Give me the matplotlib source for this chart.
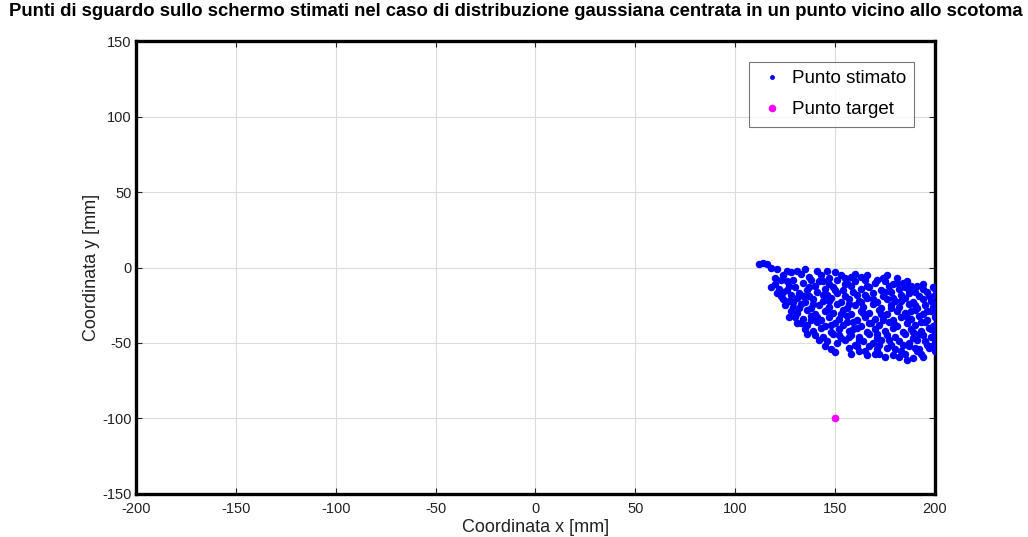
import matplotlib.pyplot as plt
import numpy as np

plt.rcParams['font.family'] = ['Liberation Sans', 'DejaVu Sans']
plt.rcParams['axes.unicode_minus'] = False

# estimated gaze points on the screen [mm]
stimati = [
    (112, 2.5), (114, 3), (116, 2), (118, 0), (121, -1), (126, -2.5), (128, -3), (131, -2), (141, -2),
    (124, -5), (133, -4), (137, -6), (143, -5), (147, -7), (153, -5), (155, -7), (158, -6), (163, -6),
    (166, -5), (171, -8), (174, -7),
    (120, -11), (126, -9), (129, -8), (134, -10), (138, -8), (144, -9), (147, -11), (151, -8),
    (156, -10), (160, -9), (165, -8), (170, -10), (175, -9), (179, -11), (184, -10), (188, -12),
    (118, -13), (122, -14), (127, -12), (130, -13), (136, -15), (140, -12), (145, -14), (149, -13),
    (154, -15), (158, -12), (163, -14), (167, -13), (173, -15), (177, -12), (182, -14), (185, -13),
    (191, -12), (194, -14), (199, -13),
    (121, -17), (124, -16), (128, -18), (132, -17), (137, -19), (141, -16), (146, -18), (151, -17),
    (155, -19), (159, -16), (165, -18), (169, -17), (174, -19), (178, -16), (183, -18), (187, -17),
    (192, -19), (196, -16), (200, -18),
    (124, -21), (127, -22), (131, -20), (135, -23), (139, -21), (144, -22), (148, -20), (153, -23),
    (157, -21), (162, -22), (166, -20), (171, -23), (176, -21), (180, -22), (185, -20), (189, -23),
    (194, -21), (198, -22),
    (125, -25), (129, -26), (133, -24), (138, -27), (142, -25), (147, -26), (151, -24), (156, -27),
    (160, -25), (164, -26), (169, -24), (173, -27), (178, -25), (182, -26), (187, -24), (191, -27),
    (195, -25), (199, -26),
    (128, -29), (131, -30), (136, -28), (140, -31), (145, -29), (149, -30), (154, -28), (158, -31),
    (163, -29), (167, -30), (172, -28), (176, -31), (181, -29), (185, -30), (190, -28), (194, -31),
    (198, -29), (200, -31),
    (130, -33), (134, -34), (138, -32), (143, -35), (147, -33), (152, -34), (156, -32), (161, -35),
    (165, -33), (170, -34), (174, -32), (179, -35), (183, -33), (188, -34), (192, -32), (196, -35),
    (200, -33),
    (133, -37), (136, -38), (141, -36), (145, -39), (150, -37), (154, -38), (159, -36), (163, -39),
    (168, -37), (172, -38), (177, -36), (181, -39), (186, -37), (190, -38), (195, -36), (199, -39),
    (135, -41), (139, -42), (143, -40), (148, -43), (152, -41), (157, -42), (161, -40), (166, -43),
    (170, -41), (175, -42), (179, -40), (184, -43), (188, -41), (193, -42), (197, -40), (200, -43),
    (140, -45), (144, -46), (149, -44), (153, -47), (158, -45), (162, -46), (167, -44), (171, -47),
    (176, -45), (180, -46), (185, -44), (189, -47), (194, -45), (198, -46),
    (146, -49), (151, -50), (155, -48), (160, -51), (164, -49), (169, -50), (173, -48), (178, -51),
    (182, -49), (187, -50), (191, -48), (196, -51), (200, -49),
    (148, -54), (157, -53), (162, -55), (167, -52), (171, -54), (176, -53), (183, -55), (187, -52),
    (192, -54), (197, -53), (200, -55),
    (166, -58), (172, -57), (179, -58), (182, -59), (186, -61), (189, -60), (193, -57),
    (123, -8), (126, -15), (129, -23), (132, -27), (134, -19), (137, -13), (139, -24), (141, -33),
    (142, -9), (144, -18), (146, -28), (148, -38), (150, -15), (152, -45), (153, -31), (155, -11),
    (157, -24), (159, -41), (161, -18), (162, -48), (164, -30), (166, -12), (167, -37), (169, -21),
    (171, -44), (172, -51), (173, -31), (175, -16), (177, -48), (178, -27), (180, -38), (181, -10),
    (183, -22), (184, -51), (186, -33), (187, -15), (189, -43), (190, -25), (191, -55), (193, -36),
    (194, -11), (195, -49), (196, -29), (197, -19), (198, -41), (199, -52), (200, -24), (200, -38),
    (200, -46), (200, -14),
    (127, -33), (131, -37), (136, -44), (142, -48), (145, -52), (150, -56), (158, -57), (161, -52),
    (170, -57), (175, -59), (180, -54), (185, -57), (190, -53), (194, -59), (176, -5), (181, -7),
    (186, -9), (160, -4), (150, -3), (135, -1), (146, -2), (190, -16), (120, -7), (123, -19),
    (138, -35), (157, -46), (165, -55), (174, -35), (188, -29), (156, -36), (147, -22), (163, -23),
    (179, -20), (192, -44),
]
target_x = [150]
target_y = [-100]

x_ticks = [-200, -150, -100, -50, 0, 50, 100, 150, 200]
y_ticks = [-150, -100, -50, 0, 50, 100, 150]

px = [p[0] for p in stimati]
py = [p[1] for p in stimati]

fig = plt.figure(figsize=(10.28, 5.37), dpi=100)
ax = fig.add_axes([0.1323, 0.0801, 0.7772, 0.8435])

ax.plot(px, py, 'o', color=(0, 0, 1), markersize=5.4, markeredgewidth=0,
        label='Punto stimato', zorder=3)
ax.plot(target_x, target_y, 'o', color=(1, 0, 1), markersize=5.5, markeredgewidth=0,
        label='Punto target', zorder=3)

ax.set_xlim(-200, 200)
ax.set_ylim(-150, 150)
ax.set_xticks(x_ticks)
ax.set_yticks(y_ticks)
ax.grid(True, color='#dcdcdc', linewidth=0.8)
ax.set_axisbelow(True)
ax.tick_params(direction='in', length=4, top=True, right=True, labelsize=10.5,
               width=0.8, colors='#222222', labelcolor='#222222')
ax.tick_params(axis='x', pad=6)
ax.tick_params(axis='y', pad=3)
for s in ax.spines.values():
    s.set_linewidth(2.4)
    s.set_color('black')

ax.set_xlabel('Coordinata x [mm]', fontsize=13, color='#222222', labelpad=2)
ax.set_ylabel('Coordinata y [mm]', fontsize=13, color='#222222', labelpad=2)

fig.text(0.502, 0.978, 'Punti di sguardo sullo schermo stimati nel caso di distribuzione gaussiana '
         'centrata in un punto vicino allo scotoma', ha='center', va='center',
         fontsize=13.3, fontweight='bold')

leg = ax.legend(loc='upper right', fontsize=13.5, frameon=True, fancybox=False,
                edgecolor='#555555', borderaxespad=1.1, handletextpad=0.3,
                handlelength=1.5, borderpad=0.45, labelspacing=0.75, markerscale=1.0)
leg.get_frame().set_linewidth(0.8)
leg.legend_handles[0].set_markersize(3.5)
leg.legend_handles[1].set_markersize(5.5)

fig.savefig('out.png', dpi=100)
